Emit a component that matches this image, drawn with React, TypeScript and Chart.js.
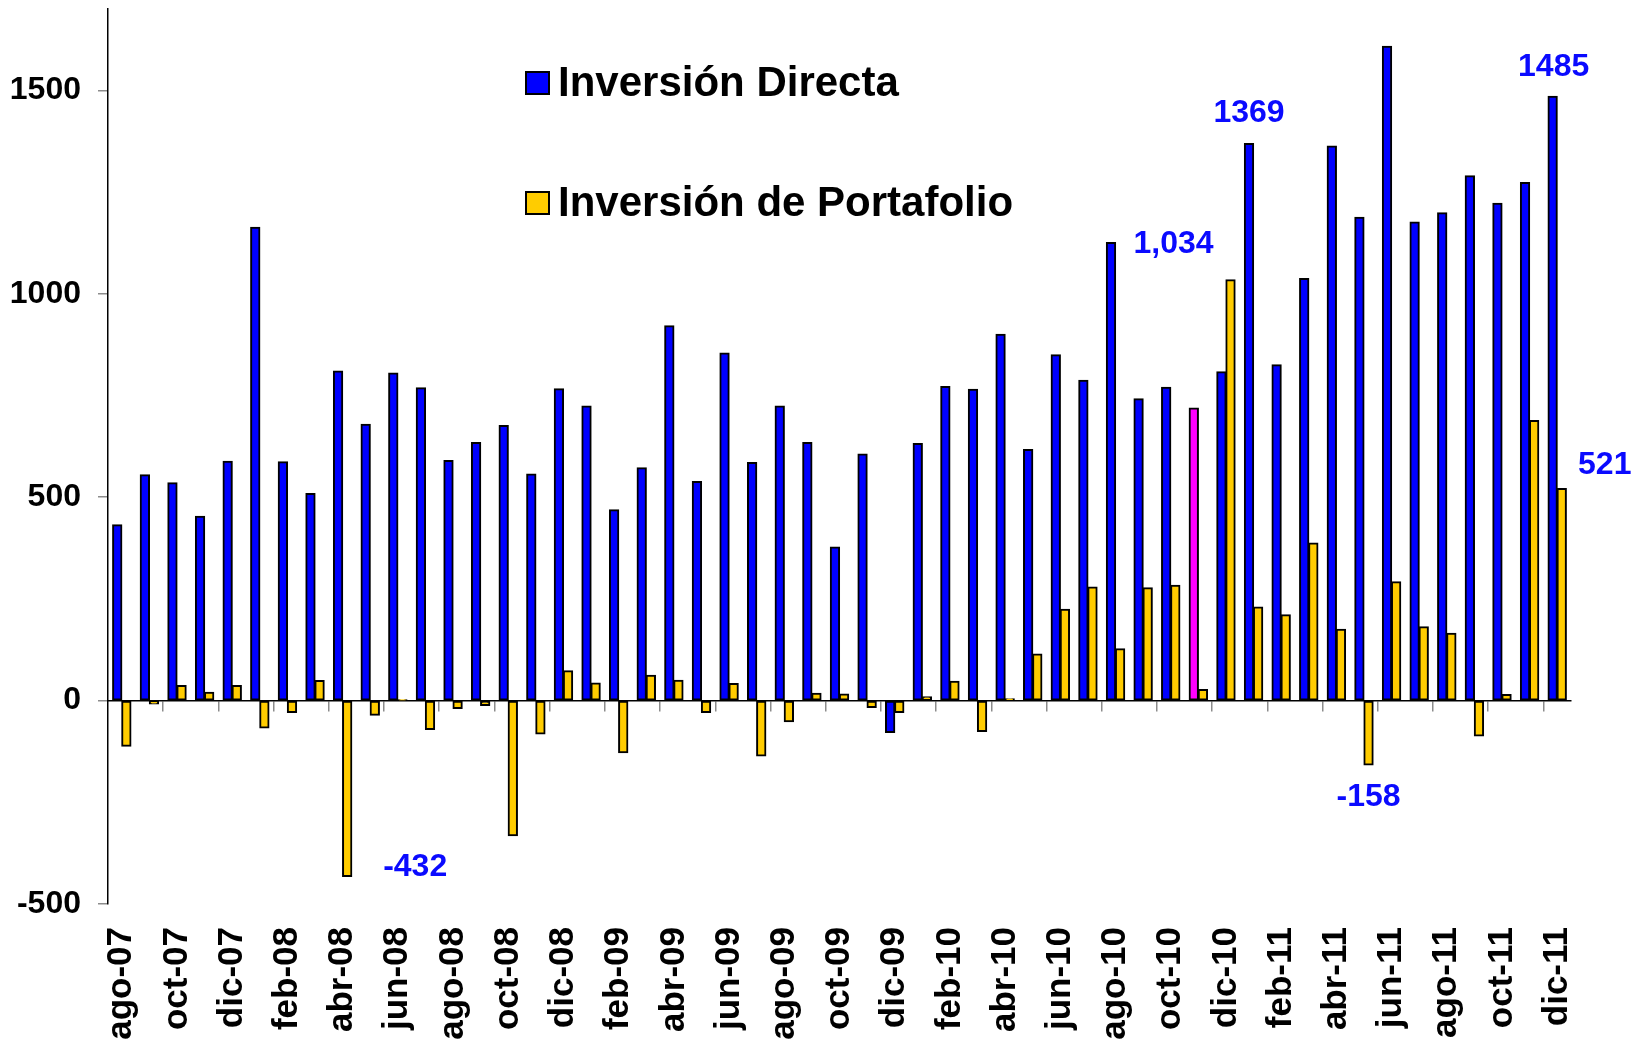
import React, { useEffect, useRef } from 'react';
import { Chart, registerables } from 'chart.js';

Chart.register(...registerables);

// ---------- data ----------
const months = [
  'ago-07', 'sep-07', 'oct-07', 'nov-07', 'dic-07',
  'ene-08', 'feb-08', 'mar-08', 'abr-08', 'may-08', 'jun-08', 'jul-08', 'ago-08', 'sep-08', 'oct-08', 'nov-08', 'dic-08',
  'ene-09', 'feb-09', 'mar-09', 'abr-09', 'may-09', 'jun-09', 'jul-09', 'ago-09', 'sep-09', 'oct-09', 'nov-09', 'dic-09',
  'ene-10', 'feb-10', 'mar-10', 'abr-10', 'may-10', 'jun-10', 'jul-10', 'ago-10', 'sep-10', 'oct-10', 'nov-10', 'dic-10',
  'ene-11', 'feb-11', 'mar-11', 'abr-11', 'may-11', 'jun-11', 'jul-11', 'ago-11', 'sep-11', 'oct-11', 'nov-11', 'dic-11',
];

const directInvestment = [
  432, 555, 535, 453, 588,
  1163, 587, 509, 810, 679, 805, 769, 590, 634, 676, 557, 766,
  724, 469, 572, 921, 538, 854, 585, 724, 634, 377, 606, -78,
  632, 772, 765, 900, 617, 850, 787, 1126, 742, 770, 719, 808,
  1369, 825, 1037, 1363, 1188, 1608, 1176, 1199, 1290, 1222, 1273, 1485,
];

const portfolioInvestment = [
  -112, -8, 37, 20, 37,
  -67, -29, 49, -432, -36, 2, -71, -19, -12, -332, -82, 73,
  43, -128, 62, 50, -29, 42, -136, -52, 18, 16, -17, -29,
  9, 47, -76, 4, 114, 224, 279, 127, 277, 283, 27, 1034,
  230, 211, 387, 175, -158, 292, 181, 165, -87, 15, 688, 521,
];

const seriesNames = ['Inversión Directa', 'Inversión de Portafolio'];
const yTickValues = [-500, 0, 500, 1000, 1500];
const Y_MIN = -500;
const Y_MAX = 1700;
const highlightMonth = 'nov-10';

// value call-outs (which bar, and how the text sits relative to the bar end)
const callouts = [
  { series: 1, month: 'abr-08', dx: 68, dy: -9, grouped: false },
  { series: 1, month: 'dic-10', dx: -57, dy: -36, grouped: true },
  { series: 0, month: 'ene-11', dx: 0, dy: -30, grouped: false },
  { series: 1, month: 'may-11', dx: 0, dy: 32, grouped: false },
  { series: 0, month: 'dic-11', dx: 1, dy: -29, grouped: false },
  { series: 1, month: 'dic-11', dx: 43, dy: -23, grouped: false },
];

// ---------- styling ----------
const FONT = "'Liberation Sans', Arial, Helvetica, sans-serif";
const BLUE = '#0000FF';
const YELLOW = '#FFCC00';
const MAGENTA = '#FF00FF';
const CALLOUT_BLUE = '#0A0AFF';
const LEGEND = { boxX: 526, boxW: 23, boxH: 22, textX: 558, rows: [83, 203], fontSize: 42 };

const legendPlugin = {
  id: 'insideLegend',
  afterDraw(chart: any) {
    const ctx = chart.ctx;
    ctx.save();
    chart.data.datasets.forEach((ds: any, i: number) => {
      const cy = LEGEND.rows[i];
      ctx.fillStyle = ds.legendColor;
      ctx.fillRect(LEGEND.boxX, cy - LEGEND.boxH / 2, LEGEND.boxW, LEGEND.boxH);
      ctx.lineWidth = 2;
      ctx.strokeStyle = '#000';
      ctx.strokeRect(LEGEND.boxX, cy - LEGEND.boxH / 2, LEGEND.boxW, LEGEND.boxH);
      ctx.fillStyle = '#000';
      ctx.font = `bold ${LEGEND.fontSize}px ${FONT}`;
      ctx.textAlign = 'left';
      ctx.textBaseline = 'middle';
      ctx.fillText(ds.label, LEGEND.textX, cy + 1);
    });
    ctx.restore();
  },
};

const calloutPlugin = {
  id: 'callouts',
  afterDatasetsDraw(chart: any) {
    const ctx = chart.ctx;
    ctx.save();
    ctx.font = `bold 32px ${FONT}`;
    ctx.fillStyle = CALLOUT_BLUE;
    ctx.textAlign = 'center';
    ctx.textBaseline = 'middle';
    callouts.forEach((c) => {
      const idx = months.indexOf(c.month);
      const el = chart.getDatasetMeta(c.series).data[idx];
      const v = chart.data.datasets[c.series].data[idx] as number;
      const text = c.grouped ? v.toLocaleString('en-US') : String(v);
      ctx.fillText(text, el.x + c.dx, el.y + c.dy);
    });
    ctx.restore();
  },
};

export default function App() {
  const canvasRef = useRef<HTMLCanvasElement | null>(null);

  useEffect(() => {
    document.body.style.margin = '0';
    const canvas = canvasRef.current;
    if (!canvas) return;
    const chart = new Chart(canvas, {
      type: 'bar',
      data: {
        labels: months,
        datasets: [
          {
            label: seriesNames[0],
            data: directInvestment,
            legendColor: BLUE,
            backgroundColor: (c: any) => (months[c.dataIndex] === highlightMonth ? MAGENTA : BLUE),
            borderColor: '#000',
            borderWidth: 2,
            borderSkipped: false,
            inflateAmount: 0.6,
            categoryPercentage: 0.66,
            barPercentage: 1.0,
          } as any,
          {
            label: seriesNames[1],
            data: portfolioInvestment,
            legendColor: YELLOW,
            backgroundColor: YELLOW,
            borderColor: '#000',
            borderWidth: 2,
            borderSkipped: false,
            inflateAmount: 0.6,
            categoryPercentage: 0.66,
            barPercentage: 1.0,
          } as any,
        ],
      },
      options: {
        responsive: false,
        animation: false,
        devicePixelRatio: 1,
        layout: { padding: { top: 9, right: 70, bottom: 0, left: 0 } },
        plugins: {
          legend: { display: false },
          tooltip: { enabled: false },
        },
        scales: {
          x: {
            type: 'category',
            position: 'bottom',
            offset: true,
            grid: { display: false, drawTicks: false },
            border: { display: false },
            ticks: {
              autoSkip: false,
              maxRotation: 90,
              minRotation: 90,
              padding: 23,
              color: '#000',
              font: { family: FONT, size: 35, weight: 'bold' },
              callback: (_v: any, i: number) => (i % 2 === 0 ? months[i] : ''),
            },
            afterFit: (s: any) => {
              s.height = 146;
              s.paddingLeft = 0;
              s.paddingRight = 0;
            },
          },
          xZero: {
            type: 'category',
            position: { y: 0 },
            offset: true,
            grid: {
              offset: true,
              drawOnChartArea: false,
              drawTicks: true,
              tickLength: 10,
              lineWidth: 1.5,
              tickColor: (c: any) => (c.index % 2 === 0 && c.index > 0 ? '#8c8c8c' : 'rgba(0,0,0,0)'),
            },
            border: { display: true, color: '#000', width: 1.5 },
            ticks: { display: false },
          },
          y: {
            type: 'linear',
            min: Y_MIN,
            max: Y_MAX,
            grid: {
              drawOnChartArea: false,
              drawTicks: true,
              tickLength: 10,
              lineWidth: 1.5,
              tickColor: '#8c8c8c',
            },
            border: { display: true, color: '#000', width: 1.5 },
            ticks: {
              padding: 17,
              color: '#000',
              font: { family: FONT, size: 32, weight: 'bold' },
              callback: (v: any) => String(v),
            },
            afterBuildTicks: (s: any) => {
              s.ticks = yTickValues.map((v) => ({ value: v }));
            },
            afterFit: (s: any) => {
              s.width = 108;
              s.paddingTop = 0;
              s.paddingBottom = 0;
            },
          },
        },
      } as any,
      plugins: [legendPlugin, calloutPlugin],
    });
    return () => chart.destroy();
  }, []);

  return (
    <div style={{ position: 'absolute', left: 0, top: 0, width: 1641, height: 1050, background: '#fff', overflow: 'hidden' }}>
      <canvas ref={canvasRef} width={1641} height={1050} style={{ display: 'block' }} />
    </div>
  );
}
